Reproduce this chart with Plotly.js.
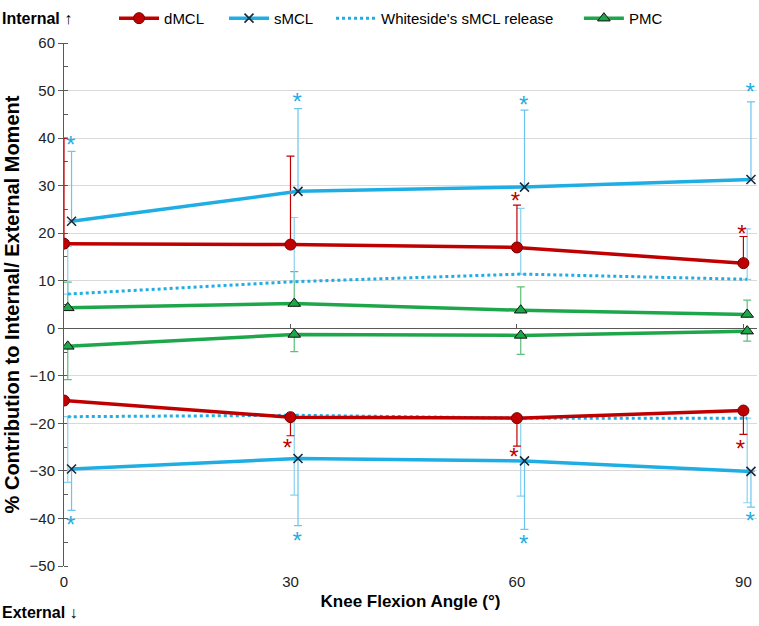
<!DOCTYPE html>
<html><head><meta charset="utf-8">
<script src="https://cdn.plot.ly/plotly-3.0.1.min.js"></script>
<style>body{margin:0;background:#fff}#chart{width:759px;height:626px}</style>
</head><body><div id="chart"></div>
<script>
// Knee flexion angles (deg)
const angles = [0, 30, 60, 90];
const xTickLabels = ['0', '30', '60', '90'];
// Internal (positive) and external (negative) contributions with SD
const dMCL_int = [17.8, 17.6, 17.0, 13.7];
const dMCL_int_sd = [22.2, 18.6, 8.9, 5.6];
const dMCL_ext = [-15.2, -18.7, -18.9, -17.3];
const dMCL_ext_sd = [0, 3.9, 5.9, 5.0];
const sMCL_int = [22.5, 28.8, 29.7, 31.3];
const sMCL_int_sd = [14.7, 17.4, 16.2, 16.3];
const sMCL_ext = [-29.6, -27.4, -27.9, -30.1];
const sMCL_ext_sd = [8.7, 14.1, 14.4, 7.5];
const white_int = [7.2, 9.8, 11.4, 10.3];
const white_int_sd = [10.0, 13.5, 13.8, 10.6];
const white_ext = [-18.6, -18.3, -18.9, -18.9];
const white_ext_sd = [13.8, 16.8, 16.4, 17.8];
const pmc_int = [4.3, 5.2, 3.8, 2.9];
const pmc_int_sd = [5.4, 6.7, 4.9, 3.0];
const pmc_ext = [-3.8, -1.3, -1.5, -0.6];
const pmc_ext_sd = [7.0, 3.6, 4.0, 2.1];
// Significance asterisks (value positions)
const sig_sMCL_x = [0, 30, 60, 90];
const sig_sMCL_int = [39.1, 48.1, 47.6, 50.2];
const sig_sMCL_ext = [-40.9, -44.2, -44.8, -40.0];
const sig_dMCL_int_x = [60, 90];
const sig_dMCL_int = [27.4, 20.5];
const sig_dMCL_ext_x = [30, 60, 90];
const sig_dMCL_ext = [-24.6, -26.5, -24.9];

const RED = '#C00000', BLUE = '#1FAEE3', GREEN = '#1DA64A';
const shift = (arr, d) => arr.map(v => v + d);
const FONT = 'Liberation Sans, Arial, sans-serif';

function series(name, xs, ys, sd, up, color, lineStyle, marker, ebColor, legend, showLeg) {
  const t = {
    type: 'scatter', mode: marker ? 'lines+markers' : 'lines',
    name: name, x: xs, y: ys, legend: legend, legendgroup: name, showlegend: showLeg,
    line: Object.assign({color: color, width: 3.5}, lineStyle),
    error_y: {type: 'data', symmetric: false,
      array: up ? sd : sd.map(() => 0),
      arrayminus: up ? sd.map(() => 0) : sd,
      color: ebColor, thickness: 1.2, width: 4},
    hoverinfo: 'skip'
  };
  if (marker) t.marker = marker;
  return t;
}
const mD = {symbol: 'circle', size: 11, color: RED, line: {color: '#6E0000', width: 1}};
const mS = {symbol: 'x-thin', size: 9, color: '#1B2A3A', line: {color: '#1B2A3A', width: 1.6}};
const mP = {symbol: 'triangle-up', size: 11, color: GREEN, line: {color: '#111', width: 1}};

const traces = [
  series('PMC', shift(angles, 0.5), pmc_int, pmc_int_sd, true, GREEN, {}, mP, '#5DBF7A', 'legend4', true),
  series('PMC', shift(angles, 0.5), pmc_ext, pmc_ext_sd, false, GREEN, {}, mP, '#5DBF7A', 'legend4', false),
  series("Whiteside's sMCL release", shift(angles, 0.5), white_int, white_int_sd, true, BLUE, {dash: 'dot', width: 3}, null, '#8CD2F0', 'legend3', true),
  series("Whiteside's sMCL release", shift(angles, 0.5), white_ext, white_ext_sd, false, BLUE, {dash: 'dot', width: 3}, null, '#8CD2F0', 'legend3', false),
  series('dMCL', angles, dMCL_int, dMCL_int_sd, true, RED, {}, mD, RED, 'legend', true),
  series('dMCL', angles, dMCL_ext, dMCL_ext_sd, false, RED, {}, mD, RED, 'legend', false),
  series('sMCL', shift(angles, 1), sMCL_int, sMCL_int_sd, true, BLUE, {}, mS, '#6CC5EC', 'legend2', true),
  series('sMCL', shift(angles, 1), sMCL_ext, sMCL_ext_sd, false, BLUE, {}, mS, '#6CC5EC', 'legend2', false),
  {type: 'scatter', mode: 'text', x: shift(sig_sMCL_x, 0.9), y: shift(sig_sMCL_int, -1.0), text: sig_sMCL_int.map(() => '*'),
   textfont: {family: FONT, size: 24, color: BLUE}, showlegend: false, hoverinfo: 'skip'},
  {type: 'scatter', mode: 'text', x: shift(sig_sMCL_x, 0.9), y: shift(sig_sMCL_ext, -1.0), text: sig_sMCL_ext.map(() => '*'),
   textfont: {family: FONT, size: 24, color: BLUE}, showlegend: false, hoverinfo: 'skip'},
  {type: 'scatter', mode: 'text', x: shift(sig_dMCL_int_x, -0.2), y: shift(sig_dMCL_int, -1.0), text: sig_dMCL_int.map(() => '*'),
   textfont: {family: FONT, size: 24, color: RED}, showlegend: false, hoverinfo: 'skip'},
  {type: 'scatter', mode: 'text', x: shift(sig_dMCL_ext_x, -0.4), y: shift(sig_dMCL_ext, -1.0), text: sig_dMCL_ext.map(() => '*'),
   textfont: {family: FONT, size: 24, color: RED}, showlegend: false, hoverinfo: 'skip'},
  {type: 'scatter', mode: 'markers', x: [], y: [], xaxis: 'x2', showlegend: false, hoverinfo: 'skip'}
];

const legBase = {orientation: 'h', yanchor: 'middle', y: 1.047, xanchor: 'left',
  font: {family: FONT, size: 15, color: '#000'}, bgcolor: 'rgba(0,0,0,0)', itemwidth: 40};
const layout = {
  width: 759, height: 626,
  margin: {l: 64, r: 2, t: 38, b: 60},
  paper_bgcolor: '#fff', plot_bgcolor: '#fff',
  font: {family: FONT, color: '#000'},
  xaxis: {range: [0, 91.8], tickvals: angles, ticktext: xTickLabels, showgrid: false, zeroline: false,
    showline: false, ticks: '', ticklabelstandoff: 5, tickfont: {family: FONT, size: 15, color: '#222'},
    title: {text: 'Knee Flexion Angle (°)', font: {family: FONT, size: 17, weight: 'bold', color: '#000'}, standoff: 6}},
  xaxis2: {overlaying: 'x', anchor: 'free', position: 50 / 110, range: [0, 91.8], tickvals: angles,
    showticklabels: false, showgrid: false, zeroline: false, showline: true, linecolor: '#595959', linewidth: 1,
    ticks: 'inside', ticklen: 4, tickcolor: '#595959', layer: 'below traces'},
  yaxis: {range: [-50, 60], dtick: 10, tick0: 0, showgrid: true, gridcolor: '#D9D9D9', zeroline: false,
    showline: true, linecolor: '#595959', linewidth: 1, ticks: 'outside', ticklen: 5, tickcolor: '#595959',
    minor: {dtick: 5, ticks: 'inside', ticklen: 4, tickcolor: '#595959', showgrid: false},
    layer: 'below traces', tickfont: {family: FONT, size: 15, color: '#222'},
    title: {text: '% Contribution to Internal/ External Moment', font: {family: FONT, size: 20, weight: 'bold', color: '#000'}, standoff: 4}},
  legend: Object.assign({}, legBase, {x: 0.0722}),
  legend2: Object.assign({}, legBase, {x: 0.2309}),
  legend3: Object.assign({}, legBase, {x: 0.3853}),
  legend4: Object.assign({}, legBase, {x: 0.743}),
  showlegend: true,
  annotations: [
    {xref: 'paper', yref: 'paper', x: -64 / 693, y: 1.047, xanchor: 'left', yanchor: 'middle', showarrow: false,
     text: 'Internal ↑', font: {family: FONT, size: 16, weight: 'bold', color: '#000'}},
    {xref: 'paper', yref: 'paper', x: -64 / 693, y: -47 / 528, xanchor: 'left', yanchor: 'middle', showarrow: false,
     text: 'External ↓', font: {family: FONT, size: 16, weight: 'bold', color: '#000'}}
  ]
};
Plotly.newPlot('chart', traces, layout, {displayModeBar: false, staticPlot: true});
</script>
</body></html>
